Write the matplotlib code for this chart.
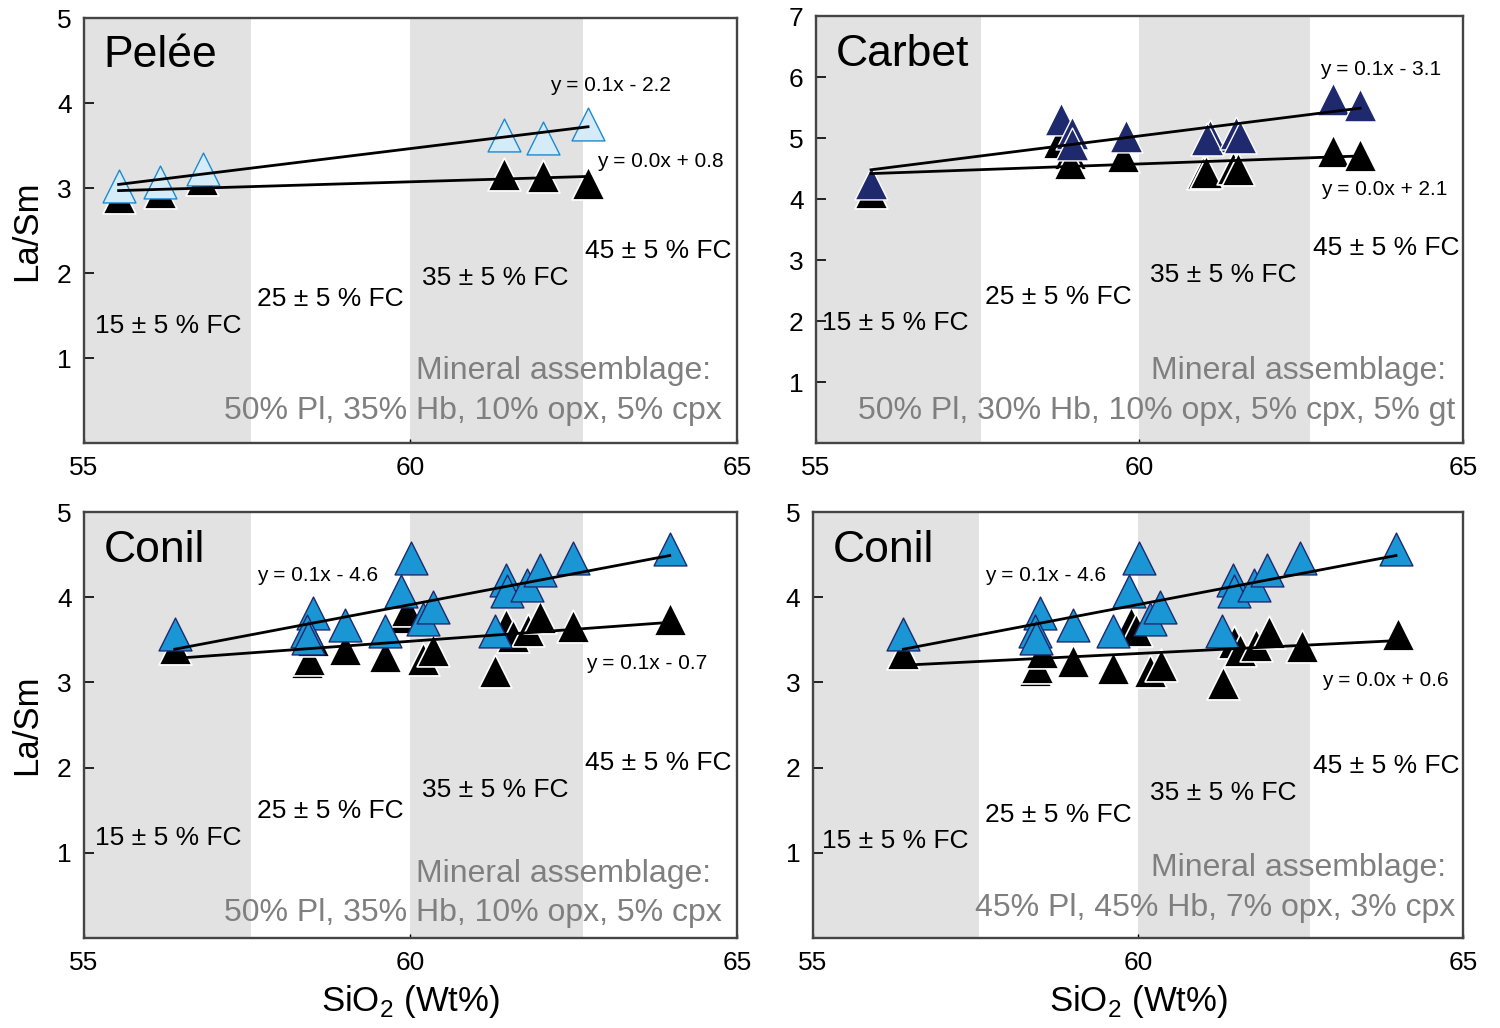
import numpy as np
import matplotlib.pyplot as plt

plt.rcParams['font.family'] = ['Liberation Sans', 'DejaVu Sans']
plt.rcParams['mathtext.fontset'] = 'custom'
plt.rcParams['mathtext.rm'] = 'Liberation Sans'

# --- Pelee ---
pelee_x_blue = [55.53, 56.17, 56.83, 61.43, 62.03, 62.72]
pelee_y_blue = [3.03, 3.07, 3.22, 3.63, 3.59, 3.75]
pelee_x_black = [55.53, 56.17, 56.80, 61.43, 62.03, 62.72]
pelee_y_black = [2.90, 2.95, 3.11, 3.16, 3.14, 3.06]

# --- Carbet ---
carbet_x_blue = [55.85, 58.78, 58.96, 58.96, 59.79, 61.09, 61.05, 61.49, 61.55, 62.99, 63.41]
carbet_y_blue = [4.26, 5.31, 5.09, 4.91, 5.04, 5.03, 4.98, 5.08, 5.02, 5.64, 5.54]
carbet_x_black = [55.85, 58.75, 58.93, 58.93, 59.75, 60.98, 61.03, 61.45, 61.52, 62.99, 63.41]
carbet_y_black = [4.12, 4.93, 4.75, 4.59, 4.70, 4.42, 4.45, 4.51, 4.49, 4.79, 4.72]

# --- Conil (same blue data in both lower panels) ---
conil_x_blue = [56.39, 58.50, 58.41, 58.43, 59.00, 59.61, 60.01, 59.86, 60.19,
                60.34, 61.46, 61.48, 61.79, 61.99, 62.49, 63.97, 61.29]
conil_y_blue = [3.57, 3.82, 3.60, 3.52, 3.67, 3.60, 4.46, 4.07, 3.74,
                3.88, 4.20, 4.07, 4.14, 4.32, 4.46, 4.57, 3.60]
conil_x_black_a = [56.39, 58.41, 58.44, 58.50, 59.00, 59.61, 59.92, 59.95, 60.19,
                   60.35, 61.29, 61.46, 61.57, 61.80, 61.99, 62.49, 63.97]
conil_y_black_a = [3.41, 3.24, 3.27, 3.50, 3.39, 3.31, 3.77, 3.85, 3.27,
                   3.38, 3.13, 3.67, 3.55, 3.61, 3.77, 3.66, 3.74]
conil_x_black_b = [56.38, 58.42, 58.45, 58.52, 59.00, 59.61, 59.90, 59.97, 60.18,
                   60.35, 61.31, 61.47, 61.57, 61.82, 62.02, 62.52, 64.00]
conil_y_black_b = [3.34, 3.15, 3.18, 3.36, 3.25, 3.17, 3.70, 3.62, 3.13,
                   3.20, 2.99, 3.48, 3.38, 3.44, 3.59, 3.43, 3.57]

fc_labels = ['15 \u00b1 5 % FC', '25 \u00b1 5 % FC', '35 \u00b1 5 % FC', '45 \u00b1 5 % FC']

band_color = '#e2e2e2'
gray_text = '#7f7f7f'


def setup_axes(ax, ymax):
    ax.set_xlim(55, 65)
    ax.set_ylim(0, ymax)
    ax.axvspan(55, 57.55, color=band_color, lw=0, zorder=0)
    ax.axvspan(60, 62.64, color=band_color, lw=0, zorder=0)
    ax.set_xticks([55, 60, 65])
    ax.set_yticks(range(1, ymax + 1))
    ax.tick_params(axis='y', direction='in', length=7, width=1.2, pad=9, labelsize=19)
    ax.tick_params(axis='x', direction='in', length=3, width=1, pad=9, labelsize=19)
    for sp in ax.spines.values():
        sp.set_linewidth(1.7)
        sp.set_color('#444444')


def fit_line(ax, x, y):
    x = np.asarray(x)
    y = np.asarray(y)
    m, b = np.polyfit(x, y, 1)
    xs = np.array([x.min(), x.max()])
    ax.plot(xs, m * xs + b, color='black', lw=2, zorder=5)


def draw_points(ax, xk, yk, xb, yb, face, edge):
    ax.scatter(xk, yk, marker='^', s=560, c='black', edgecolors='white', linewidths=1.2, zorder=3)
    ax.scatter(xb, yb, marker='^', s=560, c=face, edgecolors=edge, linewidths=1.0, zorder=4)
    fit_line(ax, xb, yb)
    fit_line(ax, xk, yk)


def draw_text(ax, name, name_y, fc_pos, mineral_xy, assemblage, asm_xy):
    ax.text(55.3, name_y, name, fontsize=32, va='center', ha='left')
    for lab, (x, y) in zip(fc_labels, fc_pos):
        ax.text(x, y, lab, fontsize=19, va='center', ha='left', zorder=6)
    ax.text(mineral_xy[0], mineral_xy[1], 'Mineral assemblage:', fontsize=23, color=gray_text,
            ha='right', va='center', zorder=6)
    ax.text(asm_xy[0], asm_xy[1], assemblage, fontsize=23, color=gray_text,
            ha='right', va='center', zorder=6)


fig = plt.figure(figsize=(15, 10.28), dpi=100)
ax1 = fig.add_axes([0.056, 0.569, 0.4353, 0.4134])
ax2 = fig.add_axes([0.544, 0.569, 0.4313, 0.4154])
ax3 = fig.add_axes([0.056, 0.0875, 0.4353, 0.4144])
ax4 = fig.add_axes([0.542, 0.0875, 0.4333, 0.4144])

# Pelee panel
setup_axes(ax1, 5)
draw_points(ax1, pelee_x_black, pelee_y_black, pelee_x_blue, pelee_y_blue, '#d6ebf8', '#1b8ad2')
draw_text(ax1, 'Pel\u00e9e', 4.56,
          [(55.17, 1.38), (57.65, 1.69), (60.18, 1.94), (62.67, 2.26)],
          (64.60, 0.85), '50% Pl, 35% Hb, 10% opx, 5% cpx', (64.76, 0.38))
ax1.text(63.06, 4.21, 'y = 0.1x - 2.2', fontsize=15, ha='center', va='center')
ax1.text(63.82, 3.31, 'y = 0.0x + 0.8', fontsize=15, ha='center', va='center')
ax1.set_ylabel('La/Sm', fontsize=25, labelpad=10)

# Carbet panel
setup_axes(ax2, 7)
draw_points(ax2, carbet_x_black, carbet_y_black, carbet_x_blue, carbet_y_blue, '#1f2a6e', 'white')
draw_text(ax2, 'Carbet', 6.37,
          [(55.09, 1.97), (57.61, 2.40), (60.16, 2.76), (62.68, 3.19)],
          (64.74, 1.18), '50% Pl, 30% Hb, 10% opx, 5% cpx, 5% gt', (64.88, 0.53))
ax2.text(63.72, 6.12, 'y = 0.1x - 3.1', fontsize=15, ha='center', va='center')
ax2.text(63.79, 4.15, 'y = 0.0x + 2.1', fontsize=15, ha='center', va='center')

# Conil panel (left)
setup_axes(ax3, 5)
draw_points(ax3, conil_x_black_a, conil_y_black_a, conil_x_blue, conil_y_blue, '#1a96d4', '#1f2a6e')
draw_text(ax3, 'Conil', 4.55,
          [(55.17, 1.17), (57.65, 1.49), (60.18, 1.74), (62.67, 2.05)],
          (64.60, 0.75), '50% Pl, 35% Hb, 10% opx, 5% cpx', (64.76, 0.29))
ax3.text(58.58, 4.26, 'y = 0.1x - 4.6', fontsize=15, ha='center', va='center')
ax3.text(63.62, 3.22, 'y = 0.1x - 0.7', fontsize=15, ha='center', va='center')
ax3.set_ylabel('La/Sm', fontsize=25, labelpad=10)
ax3.set_xlabel('SiO$_2$ (Wt%)', fontsize=25, labelpad=6)

# Conil panel (right)
setup_axes(ax4, 5)
draw_points(ax4, conil_x_black_b, conil_y_black_b, conil_x_blue, conil_y_blue, '#1a96d4', '#1f2a6e')
draw_text(ax4, 'Conil', 4.55,
          [(55.14, 1.14), (57.65, 1.45), (60.18, 1.70), (62.69, 2.02)],
          (64.74, 0.82), '45% Pl, 45% Hb, 7% opx, 3% cpx', (64.88, 0.35))
ax4.text(58.58, 4.26, 'y = 0.1x - 4.6', fontsize=15, ha='center', va='center')
ax4.text(63.80, 3.02, 'y = 0.0x + 0.6', fontsize=15, ha='center', va='center')
ax4.set_xlabel('SiO$_2$ (Wt%)', fontsize=25, labelpad=6)

fig.savefig('out.png', dpi=100)
